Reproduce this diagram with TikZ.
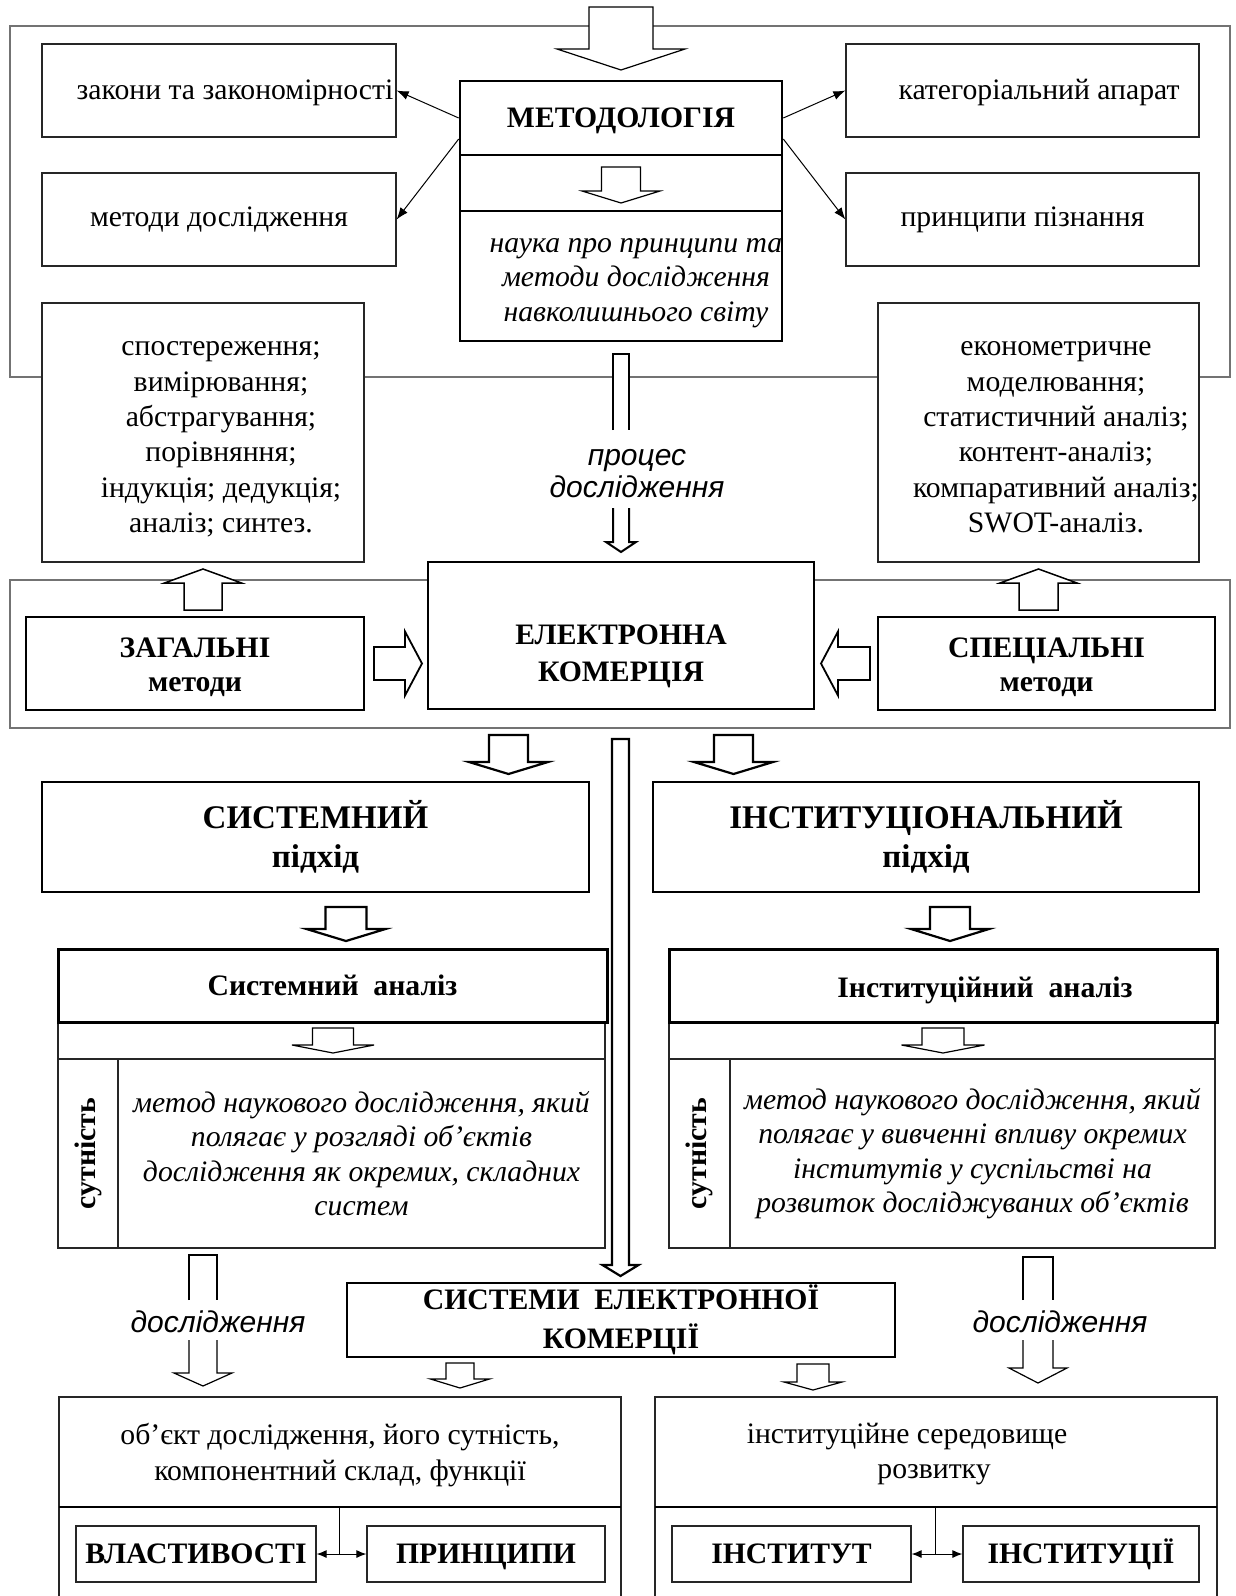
\documentclass[tikz,border=0pt]{standalone}
\usepackage{fontspec}
\setmainfont{Liberation Serif}
\newfontfamily\labelsans{Liberation Sans}
\usepackage{tikz}
\usetikzlibrary{arrows.meta}
\usetikzlibrary{positioning}

\tikzset{
  every node/.style={inner sep=0pt, align=center},
  frame/.style={draw=black!55, line width=1.2pt},
  plainbox/.style={draw=black!85, line width=1.2pt, fill=white},
  midbox/.style={draw=black, line width=2pt, fill=white},
  boldbox/.style={draw=black, line width=2.6pt, fill=white},
  outline/.style={draw=black!85, line width=1.2pt},
  capline/.style={text height=19.5pt, text depth=0pt},
  lowline/.style={text height=13.7pt, text depth=0pt},
  heading/.style={font=\bfseries},
  listtext/.style={font=\fontsize{29.7}{35.4}\selectfont},
  gloss/.style={font=\itshape},
  flowlabel/.style={font=\labelsans\itshape\fontsize{30}{32}\selectfont},
  link/.style={-{Latex[length=12pt,width=9pt]}, line width=1pt},
  twolink/.style={{Latex[length=10pt,width=8pt]}-{Latex[length=10pt,width=8pt]}, line width=1pt},
}

% block arrow: style, cx, ytop, yhead, ytip, shaft half, head half
\newcommand{\blockarrow}[7][]{%
\filldraw[fill=white, line width=1.2pt, #1] (#2-#6,#3) -- (#2-#6,#4) -- (#2-#7,#4) -- (#2,#5) -- (#2+#7,#4) -- (#2+#6,#4) -- (#2+#6,#3) -- cycle;}
% side arrow: style, cy, xtail, xhead, xtip, shaft half, head half
\newcommand{\sidearrow}[7][]{%
\filldraw[fill=white, line width=1.2pt, #1] (#3,#2-#6) -- (#4,#2-#6) -- (#4,#2-#7) -- (#5,#2) -- (#4,#2+#7) -- (#4,#2+#6) -- (#3,#2+#6) -- cycle;}
% arrow broken by a label: style, cx, ytop, ybreak, yrest, yhead, ytip, shaft half, head half
\newcommand{\splitarrow}[9][]{%
\filldraw[fill=white, line width=1.2pt, #1] (#2-#8,#4) -- (#2-#8,#3) -- (#2+#8,#3) -- (#2+#8,#4);
\filldraw[fill=white, line width=1.2pt, #1] (#2-#8,#5) -- (#2-#8,#6) -- (#2-#9,#6) -- (#2,#7) -- (#2+#9,#6) -- (#2+#8,#6) -- (#2+#8,#5);}

\begin{document}
\begin{tikzpicture}[x=1pt, y=-1pt]

\fontsize{29.7}{34.5}\selectfont
\useasboundingbox (0,0) rectangle (1235,1596);

\draw[frame] (10,26) rectangle (1230,377);
\draw[frame] (10,580) rectangle (1230,728);

% methodology
\node[plainbox, minimum width=354, minimum height=93] (laws) at (219,90.5) {};
\node[lowline] (lawstext) at (235,93) {закони та закономірності};
\node[plainbox, lowline, minimum width=354, minimum height=93] (methods) at (219,219.5) {методи дослідження};
\node[plainbox, minimum width=353, minimum height=93] (terms) at (1022.5,90.5) {};
\node[lowline] (termstext) at (1039,93) {категоріальний апарат};
\node[plainbox, lowline, minimum width=353, minimum height=93] (rules) at (1022.5,219.5) {принципи пізнання};

\node[boldbox, heading, capline, minimum width=322, minimum height=74] (meth) at (621,118) {МЕТОДОЛОГІЯ};
\node[boldbox, minimum width=322, minimum height=56] (methgap) at (621,183) {};
\node[boldbox, minimum width=322, minimum height=130] (methdef) at (621,276) {};
\node[gloss] (methdeftext) at (636,283) {наука про принципи та\\методи дослідження\\навколишнього світу};

\draw[link] (meth.west) -- (laws.east);
\draw[link] ([yshift=-21pt]meth.west) -- (methods.east);
\draw[link] (meth.east) -- (terms.west);
\draw[link] ([yshift=-21pt]meth.east) -- (rules.west);

\node[plainbox, minimum width=322, minimum height=259] (genlist) at (203,432.5) {};
\node[listtext] (genlisttext) at (221,439.5) {спостереження;\\вимірювання;\\абстрагування;\\порівняння;\\індукція; дедукція;\\аналіз; синтез.};
\node[plainbox, minimum width=321, minimum height=259] (speclist) at (1038.5,432.5) {};
\node[listtext] (speclisttext) at (1056,437.5) {економетричне\\моделювання;\\статистичний аналіз;\\контент-аналіз;\\компаративний аналіз;\\SWOT-аналіз.};

% e-commerce
\node[midbox, minimum width=386, minimum height=147] (ecom) at (621,635.5) {};
\node[heading] (ecomtext) at (621,656) {ЕЛЕКТРОННА\\[2.5pt]КОМЕРЦІЯ};
\node[boldbox, heading, minimum width=338, minimum height=93] (genm) at (195,663.5) {};
\node[heading] (genmtext) at (195,667) {ЗАГАЛЬНІ\\методи};
\node[boldbox, heading, minimum width=337, minimum height=93] (specm) at (1046.5,663.5) {};
\node[heading] (specmtext) at (1046.5,667) {СПЕЦІАЛЬНІ\\методи};

% approaches
\node[midbox, font=\bfseries\fontsize{33}{39}\selectfont, minimum width=547, minimum height=110] (sysap) at (315.5,837) {СИСТЕМНИЙ\\підхід};
\node[midbox, font=\bfseries\fontsize{33}{39}\selectfont, minimum width=546, minimum height=110] (instap) at (926,837) {ІНСТИТУЦІОНАЛЬНИЙ\\підхід};

\node[plainbox, minimum width=547, minimum height=37] (sysgap) at (331.5,1040.5) {};
\node[plainbox, heading, rotate=90, minimum width=189, minimum height=60] (syskey) at (88,1153.5) {сутність};
\node[plainbox, gloss, minimum width=487, minimum height=189] (sysdef) at (361.5,1153.5) {метод наукового дослідження, який\\полягає у розгляді об’єктів\\дослідження як окремих, складних\\систем};
\node[boldbox, heading, line width=3pt, minimum width=549, minimum height=73] (sysan) at (332.5,985.5) {Системний\ \ аналіз};

\node[plainbox, minimum width=546, minimum height=37] (instgap) at (942,1040.5) {};
\node[plainbox, heading, rotate=90, minimum width=189, minimum height=61] (instkey) at (699.5,1153.5) {сутність};
\node[plainbox, gloss, minimum width=485, minimum height=189] (instdef) at (972.5,1153.5) {метод наукового дослідження, який\\полягає у вивченні впливу окремих\\інститутів у суспільстві на\\розвиток досліджуваних об’єктів};
\node[boldbox, line width=3pt, minimum width=548, minimum height=73] (instan) at (943,985.5) {};
\node[heading] (instantext) at (985,990.5) {Інституційний\ \ аналіз};

\node[midbox, heading, minimum width=548, minimum height=74] (ecsys) at (621,1320) {СИСТЕМИ\ \ ЕЛЕКТРОННОЇ\\[5pt]КОМЕРЦІЇ};

% results
\draw[outline] (59,1596) -- (59,1397) -- (621,1397) -- (621,1596);
\draw[line width=2pt] (59,1507) -- (621,1507);
\node[listtext] (objtext) at (340,1455) {об’єкт дослідження, його сутність,\\компонентний склад, функції};
\node[plainbox, heading, capline, minimum width=240, minimum height=56] (props) at (196,1554) {ВЛАСТИВОСТІ};
\node[plainbox, heading, capline, minimum width=238, minimum height=56] (princ) at (486,1554) {ПРИНЦИПИ};
\coordinate (lsplit) at (339,1507);
\coordinate (ljoin) at (339,1554);
\draw[line width=1pt] (lsplit) -- (ljoin);
\draw[twolink] (props) -- (princ);

\draw[outline] (655,1596) -- (655,1397) -- (1217,1397) -- (1217,1596);
\draw[line width=2pt] (655,1507) -- (1217,1507);
\node[lowline] (envtext) at (907,1437) {інституційне середовище};
\node[lowline] (envtexttwo) at (934,1472) {розвитку};
\node[plainbox, heading, capline, minimum width=239, minimum height=56] (inst) at (791.5,1554) {ІНСТИТУТ};
\node[plainbox, heading, capline, minimum width=236, minimum height=56] (insts) at (1081,1554) {ІНСТИТУЦІЇ};
\coordinate (rsplit) at (935,1507);
\coordinate (rjoin) at (935,1554);
\draw[line width=1pt] (rsplit) -- (rjoin);
\draw[twolink] (inst) -- (insts);

% block arrows
\blockarrow{621}{7}{49}{70}{32}{64}
\blockarrow{621}{167}{191}{203}{19.5}{39}
\splitarrow[line width=2pt]{621}{354}{430}{508}{542}{552}{8}{15}
\node[flowlabel] (proclabel) at (637,474) {процес\\дослідження};

\blockarrow[line width=1.5pt]{203}{610}{583}{569}{19}{38.5}
\blockarrow[line width=1.5pt]{1038.5}{610}{583}{569}{19.5}{38.5}
\sidearrow[line width=1.8pt]{663.5}{374}{405}{422}{16.5}{32}
\sidearrow[line width=1.8pt]{663.5}{870}{838}{821}{16.5}{32}

\blockarrow[line width=2.2pt]{508.5}{735}{762}{774}{19.5}{39.5}
\blockarrow[line width=2.2pt]{733.5}{735}{762}{774}{19.5}{39.5}
\blockarrow[line width=2.2pt]{620.5}{739}{1265}{1276}{8.5}{18}
\blockarrow[line width=2.2pt]{346}{907}{929}{941}{20.5}{39.5}
\blockarrow[line width=2.2pt]{950}{907}{929}{941}{20}{39}
\blockarrow{333}{1028}{1045}{1053}{20.5}{41}
\blockarrow{943}{1028}{1045}{1053}{21}{41.5}

\splitarrow{203}{1255}{1300}{1340}{1373}{1386}{14}{29}
\node[flowlabel] (resleft) at (218,1322) {дослідження};
\splitarrow{1038}{1257}{1300}{1340}{1368}{1383}{15}{29}
\node[flowlabel] (resright) at (1060,1322) {дослідження};

\blockarrow{460}{1363}{1379}{1388}{14}{29.5}
\blockarrow{813}{1364}{1382}{1390}{16}{29}

\end{tikzpicture}
\end{document}
